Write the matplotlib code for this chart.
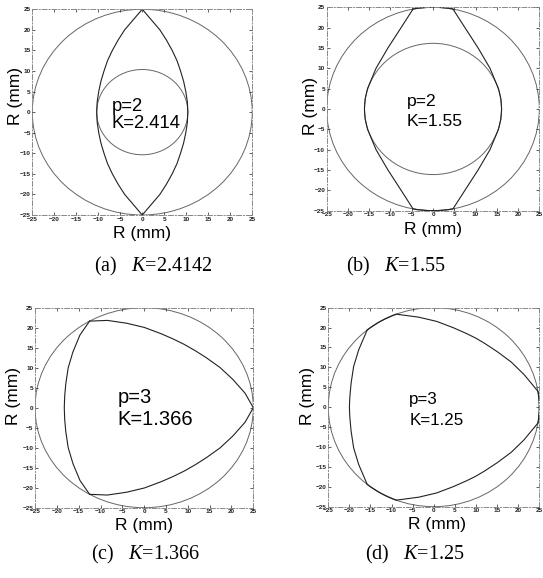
import numpy as np
import matplotlib
matplotlib.use("Agg")
import matplotlib.pyplot as plt
from matplotlib.patches import Circle, Arc

# Fuentes: Arial-like para los ejes, Times-like para los pies
plt.rcParams['font.family'] = ['Liberation Sans', 'DejaVu Sans']
plt.rcParams['mathtext.fontset'] = 'custom'
plt.rcParams['mathtext.it'] = 'Liberation Serif:italic'
plt.rcParams['mathtext.rm'] = 'Liberation Serif'

# Datos
radio_exterior = 25
letras = ["a", "b", "c", "d"]
p_valores = [2, 2, 3, 3]
k_textos = ["2.414", "1.55", "1.366", "1.25"]
k_pies = ["2.4142", "1.55", "1.366", "1.25"]
radios_interiores = [10.36, 16.13, None, None]
# angulo (grados) del centro del lado de referencia
angulo_lado = [0, 0, 180, 180]
# medio angulo (grados) del tramo de circunferencia en cada vertice
medio_arco_vertice = [0, 10.8, 0, 9.3]

# Lado de referencia de cada perfil (mm)
lado_x_a = [0, 2.0, 4.0, 5.5, 6.8, 7.9, 8.7, 9.4, 9.9, 10.25, 10.36,
            10.25, 9.9, 9.4, 8.7, 7.9, 6.8, 5.5, 4.0, 2.0, 0]
lado_y_a = [25, 22.5, 20, 17.5, 15, 12.5, 10, 7.5, 5, 2.5, 0,
            -2.5, -5, -7.5, -10, -12.5, -15, -17.5, -20, -22.5, -25]

lado_x_b = [4.7, 7.5, 10.6, 13.4, 15.4, 15.95, 16.13, 15.95, 15.4, 13.4, 10.6, 7.5, 4.7]
lado_y_b = [24.55, 20, 15, 10, 5, 2.5, 0, -2.5, -5, -10, -15, -20, -24.55]

lado_x_c = [-12.5, -14.7, -16.3, -17.4, -17.95, -18.2, -18.3,
            -18.2, -17.95, -17.4, -16.3, -14.7, -12.5]
lado_y_c = [21.65, 18.2, 14, 10, 6, 3, 0, -3, -6, -10, -14, -18.2, -21.65]

lado_x_d = [-15.8, -17.8, -19.0, -19.6, -19.9, -20.0,
            -19.9, -19.6, -19.0, -17.8, -15.8]
lado_y_d = [19.35, 14.4, 10.2, 6.0, 2.5, 0, -2.5, -6.0, -10.2, -14.4, -19.35]

lados_x = [lado_x_a, lado_x_b, lado_x_c, lado_x_d]
lados_y = [lado_y_a, lado_y_b, lado_y_c, lado_y_d]

marcas = [-25, -20, -15, -10, -5, 0, 5, 10, 15, 20, 25]

# Posicion de cada panel en la figura [izq, abajo, ancho, alto]
posiciones = [[0.0595, 0.628, 0.405, 0.356],
              [0.6017, 0.6355, 0.3915, 0.352],
              [0.0645, 0.1216, 0.402, 0.346],
              [0.6046, 0.1234, 0.3886, 0.3443]]
# Texto p / K dentro de cada panel: x, y de cada linea (mm) y tamano
texto_xy = [(-7.0, 0.2, -3.9), (-6.2, 0.7, -4.2), (-6.1, 1.3, -4.3), (-5.8, 0.7, -4.5)]
texto_tam = [13.3, 12.6, 14.5, 12.2]
# Etiquetas de ejes (fraccion de ejes): x de la etiqueta y, y de la etiqueta x
ylabel_xy = [(-0.078, 0.58), (-0.078, 0.515), (-0.1, 0.56), (-0.1, 0.556)]
xlabel_xy = [(0.5, -0.088), (0.5, -0.094), (0.5, -0.088), (0.514, -0.092)]
# Pies de figura (pixeles)
pies_xy = [(153, 266), (396, 266), (145, 554), (415, 554)]


# Funcion para dibujar un panel
def dibujar_panel(ax, i):
    p = p_valores[i]

    # Circunferencia exterior
    ax.add_patch(Circle((0, 0), radio_exterior, fill=False, color="#666666", lw=0.7))

    # Circunferencia interior
    if radios_interiores[i] is not None:
        ax.add_patch(Circle((0, 0), radios_interiores[i], fill=False, color="#666666", lw=0.7))

    # Lados del perfil, repetidos p veces por simetria
    xs = np.array(lados_x[i])
    ys = np.array(lados_y[i])
    for k in range(p):
        ang = 2 * np.pi * k / p
        xr = xs * np.cos(ang) - ys * np.sin(ang)
        yr = xs * np.sin(ang) + ys * np.cos(ang)
        ax.plot(xr, yr, color="#222222", lw=0.8)

        # Tramo de circunferencia en el vertice
        h = medio_arco_vertice[i]
        if h > 0:
            v = angulo_lado[i] + 180 / p + 360 * k / p
            ax.add_patch(Arc((0, 0), 2 * radio_exterior, 2 * radio_exterior,
                             theta1=v - h, theta2=v + h, color="#222222", lw=0.9))

    # Textos p y K
    tx, ty1, ty2 = texto_xy[i]
    ax.text(tx, ty1, f"p={p}", fontsize=texto_tam[i], va="baseline")
    ax.text(tx, ty2, f"K={k_textos[i]}", fontsize=texto_tam[i], va="baseline")

    # Ejes
    ax.set_xlim(-25, 25)
    ax.set_ylim(-25, 25)
    ax.set_xticks(marcas)
    ax.set_yticks(marcas)
    ax.tick_params(direction="in", length=2, width=0.5, top=True, right=True,
                   labelsize=4.6, pad=1.2, colors="#222222")
    for etiqueta in ax.get_xticklabels() + ax.get_yticklabels():
        etiqueta.set_fontweight("bold")
    ax.set_xlabel("R (mm)", fontsize=12.5, va="center")
    ax.set_ylabel("R (mm)", fontsize=12.5, va="center")
    ax.xaxis.set_label_coords(*xlabel_xy[i])
    ax.yaxis.set_label_coords(*ylabel_xy[i])
    for lado in ax.spines.values():
        lado.set_color("#888888")
        lado.set_linewidth(0.7)
        lado.set_linestyle((0, (5, 2, 1, 2)))


fig = plt.figure(figsize=(5.43, 5.78), dpi=100)

for i in range(4):
    ax = fig.add_axes(posiciones[i])
    dibujar_panel(ax, i)

    # Pie de cada panel
    px, py = pies_xy[i]
    fig.text(px / 543, 1 - py / 578, f"({letras[i]})   $\\mathit{{K}}$=" + k_pies[i],
             fontsize=14.5, family="Liberation Serif", ha="center", va="center")

fig.savefig("out.png", dpi=100)
